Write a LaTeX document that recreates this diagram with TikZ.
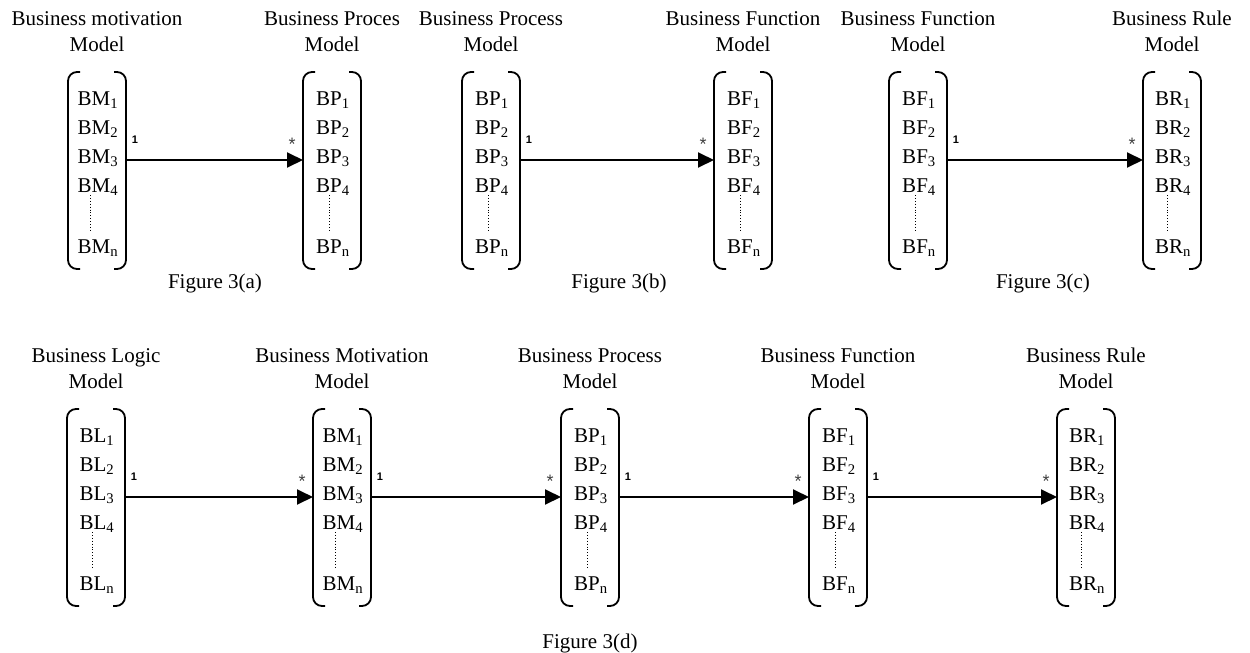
\documentclass[tikz,border=0pt]{standalone}
\usepackage{fontspec}
\setmainfont{Liberation Serif}
\newfontfamily\labfont{Liberation Sans}
\usetikzlibrary{arrows.meta}
\tikzset{
  brk/.style={line width=1.8pt, rounded corners=9pt},
  item/.style={inner sep=0pt, font=\fontsize{21}{25}\selectfont},
  ttl/.style={inner sep=0pt, font=\fontsize{21}{25}\selectfont, anchor=base},
  figlbl/.style={inner sep=0pt, font=\fontsize{21}{25}\selectfont, anchor=base},
  mult/.style={inner sep=0pt, font=\labfont\bfseries\fontsize{11}{12}\selectfont},
  multstar/.style={inner sep=0pt, text=black!75, font=\labfont\fontsize{18}{20}\selectfont},
  arr/.style={line width=1.9pt, -{Triangle[length=16pt,width=15pt]}},
  dots/.style={line width=0.9pt, dotted},
}
% #1 id, #2 left x, #3 top y, #4 prefix, #5 first title line
\newcommand\modelcol[5]{%
  \pgfmathsetmacro\Lx{#2}\pgfmathsetmacro\Rx{#2+58}\pgfmathsetmacro\Cx{#2+29}%
  \pgfmathsetmacro\Ty{#3}\pgfmathsetmacro\By{#3+197}%
  \draw[brk] ({\Lx+12},\Ty) -- (\Lx,\Ty) -- (\Lx,\By) -- ({\Lx+12},\By);
  \draw[brk] ({\Rx-12},\Ty) -- (\Rx,\Ty) -- (\Rx,\By) -- ({\Rx-12},\By);
  \node[ttl] (#1-t1) at (\Cx,{\Ty-47}) {#5};
  \node[ttl] (#1-t2) at (\Cx,{\Ty-21}) {Model};
  \node[item,anchor=base] (#1-1) at ({\Cx+1},{\Ty+33}) {#4\textsubscript{1}};
  \node[item,anchor=base west] (#1-2) at ([yshift=-29pt]#1-1.base west) {#4\textsubscript{2}};
  \node[item,anchor=base west] (#1-3) at ([yshift=-58pt]#1-1.base west) {#4\textsubscript{3}};
  \node[item,anchor=base west] (#1-4) at ([yshift=-87pt]#1-1.base west) {#4\textsubscript{4}};
  \node[item,anchor=base west] (#1-n) at ([yshift=-148pt]#1-1.base west) {#4\textsubscript{n}};
  \draw[dots] ([xshift=13pt,yshift=-90pt]#1-1.base west) -- ([xshift=13pt,yshift=-127pt]#1-1.base west);
  \coordinate (#1-L) at (\Lx,{\Ty+88});
  \coordinate (#1-R) at (\Rx,{\Ty+88});
}
\newcommand\linkcols[3]{% #1 id, #2 source, #3 target
  \draw[arr] (#2-R) -- (#3-L);
  \node[mult] (#1-one) at ([xshift=9pt,yshift=20pt]#2-R) {1};
  \node[multstar] (#1-star) at ([xshift=-11pt,yshift=16pt]#3-L) {*};
}
\begin{document}
\begin{tikzpicture}[x=1pt,y=-1pt]
\useasboundingbox (0,0) rectangle (1250,653);
% Figure 3(a)
\modelcol{a1}{68}{72}{BM}{Business motivation}
\modelcol{a2}{303}{72}{BP}{Business Proces}
\linkcols{la}{a1}{a2}
\node[figlbl] (fa) at (215,288) {Figure 3(a)};
% Figure 3(b)
\modelcol{b1}{462}{72}{BP}{Business Process}
\modelcol{b2}{714}{72}{BF}{Business Function}
\linkcols{lb}{b1}{b2}
\node[figlbl] (fb) at (619,288) {Figure 3(b)};
% Figure 3(c)
\modelcol{c1}{889}{72}{BF}{Business Function}
\modelcol{c2}{1143}{72}{BR}{Business Rule}
\linkcols{lc}{c1}{c2}
\node[figlbl] (fc) at (1043,288) {Figure 3(c)};
% Figure 3(d)
\modelcol{d1}{67}{409}{BL}{Business Logic}
\modelcol{d2}{313}{409}{BM}{Business Motivation}
\modelcol{d3}{561}{409}{BP}{Business Process}
\modelcol{d4}{809}{409}{BF}{Business Function}
\modelcol{d5}{1057}{409}{BR}{Business Rule}
\linkcols{ld1}{d1}{d2}
\linkcols{ld2}{d2}{d3}
\linkcols{ld3}{d3}{d4}
\linkcols{ld4}{d4}{d5}
\node[figlbl] (fd) at (590,648) {Figure 3(d)};
\end{tikzpicture}
\end{document}
